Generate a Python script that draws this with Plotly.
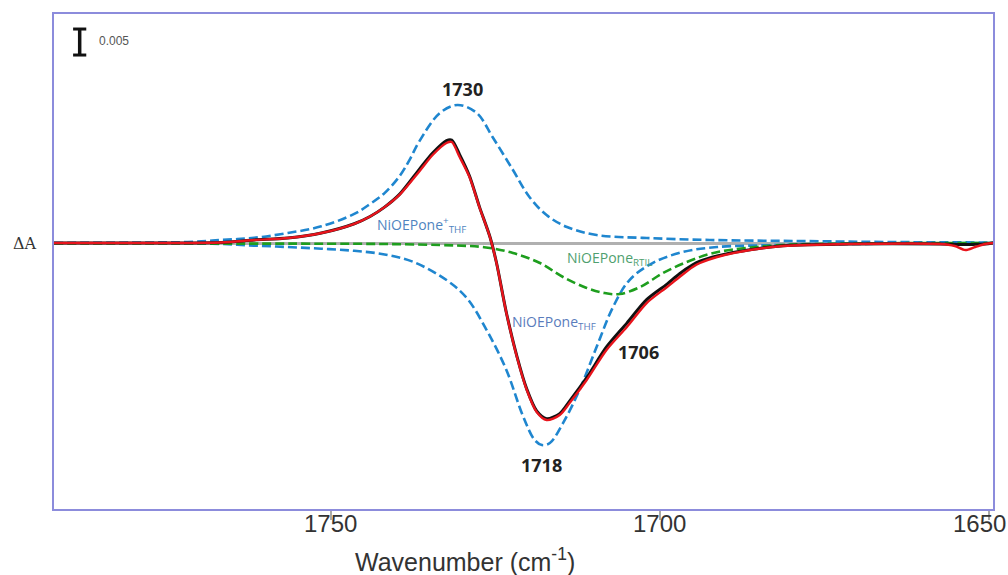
import plotly.graph_objects as go

# Wavenumber (cm-1) and ΔA (x 1e-3) values
wn_blue_pos = [1792, 1777.5, 1771.7, 1766.6, 1761.6, 1756.5, 1751.4, 1746.4, 1744.0, 1741.8,
               1739.5, 1738.0, 1736.5, 1733.4, 1730.7, 1727.8, 1725.4, 1722.3, 1719.8, 1717.2,
               1714.1, 1709.6, 1702.0, 1692.4, 1678.7, 1665.0, 1649.4]
da_blue_pos = [0.0, 0.1, 0.2, 0.58, 1.0, 1.92, 3.2, 5.6, 7.5, 9.6,
               12.9, 16.0, 19.6, 25.0, 26.54, 25.0, 20.38, 14.04, 8.85, 5.38,
               3.08, 1.54, 0.96, 0.58, 0.38, 0.19, 0.1]

wn_blue_neg = [1792, 1777.5, 1771.7, 1766.6, 1761.6, 1756.5, 1751.4, 1746.4, 1741.8, 1737.5,
               1732.4, 1729.3, 1726.3, 1723.3, 1720.8, 1719.0, 1717.9, 1716.7, 1714.7, 1712.2,
               1709.6, 1707.1, 1704.6, 1701.1, 1696.5, 1691.3, 1681.3, 1671.1, 1649.4]
da_blue_neg = [0.0, -0.05, -0.1, -0.19, -0.5, -0.77, -1.1, -1.5, -2.2, -3.6,
               -7.12, -10.6, -16.73, -24.42, -33.2, -37.88, -38.85, -38.46, -34.62, -28.27,
               -20.0, -12.31, -7.12, -3.85, -1.73, -0.77, -0.38, -0.19, 0.0]

wn_green = [1792, 1760, 1741.8, 1731.0, 1726.7, 1722.3, 1718.2, 1714.7, 1711.1, 1708.4,
            1706.1, 1703.0, 1699.5, 1695.9, 1692.4, 1688.9, 1681.3, 1671.1, 1649.4]
da_green = [-0.1, -0.12, -0.19, -0.48, -0.8, -1.92, -3.85, -6.54, -8.65, -9.62,
            -9.81, -8.46, -5.77, -3.65, -2.1, -1.25, -0.38, -0.1, 0.0]

wn_data = [1792, 1777.5, 1766.6, 1761.6, 1756.5, 1751.4, 1746.4, 1744.0, 1741.8, 1739.5,
           1736.5, 1734.5, 1732.4, 1731.6, 1730.4, 1728.9, 1727.4, 1725.8, 1724.8, 1723.3,
           1721.7, 1720.2, 1718.7, 1717.2, 1715.2, 1713.7, 1711.1, 1708.1, 1705.0, 1702.0,
           1698.9, 1697.0, 1695.0, 1693.9, 1691.3, 1686.3, 1681.3, 1671.1, 1657.4, 1655.2,
           1653.6, 1652.1, 1650.6, 1649.4]
da_red = [0.0, 0.0, 0.1, 0.58, 0.96, 1.92, 3.7, 5.1, 6.9, 9.3,
          13.8, 16.92, 19.23, 19.42, 16.54, 12.69, 6.92, 1.15, -3.85, -13.46,
          -21.92, -28.27, -32.5, -34.04, -33.08, -30.77, -26.35, -20.58, -16.15, -11.54,
          -8.46, -6.54, -4.62, -3.85, -2.69, -1.35, -0.58, -0.19, -0.19, -0.58,
          -1.35, -0.77, -0.19, 0.0]
da_black = [0.0, 0.0, 0.1, 0.58, 0.96, 1.92, 3.7, 5.1, 6.9, 9.4,
            14.2, 17.3, 19.7, 19.8, 17.0, 12.9, 7.0, 1.2, -3.8, -13.4,
            -21.8, -28.1, -32.3, -33.8, -32.8, -30.4, -25.9, -20.0, -15.4, -10.9,
            -7.9, -5.9, -4.2, -3.5, -2.5, -1.3, -0.55, -0.19, -0.19, -0.25,
            -0.3, -0.25, -0.19, 0.0]

x_ticks = [1750, 1700, 1650]
peak_labels = [(1730, 29.6, "1730"), (1718, -42.7, "1718"), (1703.3, -21.0, "1706")]
scale_bar = 5.0  # 0.005 ΔA in units of 1e-3

fig = go.Figure()

blue = "#1f86cf"
green = "#1e9e1e"

fig.add_trace(go.Scatter(x=wn_blue_pos, y=da_blue_pos, mode="lines",
                         line=dict(color=blue, width=2.6, dash="9px,4px", shape="spline", smoothing=1.0),
                         showlegend=False, hoverinfo="skip"))
fig.add_trace(go.Scatter(x=wn_blue_neg, y=da_blue_neg, mode="lines",
                         line=dict(color=blue, width=2.6, dash="9px,4px", shape="spline", smoothing=1.0),
                         showlegend=False, hoverinfo="skip"))
fig.add_trace(go.Scatter(x=wn_green, y=da_green, mode="lines",
                         line=dict(color=green, width=2.6, dash="9px,4px", shape="spline", smoothing=1.0),
                         showlegend=False, hoverinfo="skip"))
fig.add_trace(go.Scatter(x=wn_data, y=da_black, mode="lines",
                         line=dict(color="#111111", width=3.0, shape="spline", smoothing=0.8),
                         showlegend=False, hoverinfo="skip"))
fig.add_trace(go.Scatter(x=wn_data, y=da_red, mode="lines",
                         line=dict(color="#e8141c", width=2.4, shape="spline", smoothing=0.8),
                         showlegend=False, hoverinfo="skip"))

# peak labels
for xv, yv, txt in peak_labels:
    fig.add_annotation(x=xv, y=yv, text=f"<b>{txt}</b>", showarrow=False,
                       font=dict(family="Open Sans", size=18, color="#222222"))

# species labels
fig.add_annotation(x=1743.2, y=3.4, xanchor="left", text="NiOEPone<sup>+</sup><sub>THF</sub>",
                   showarrow=False, font=dict(family="Open Sans", size=14, color="#4f84c0"))
fig.add_annotation(x=1714.4, y=-3.0, xanchor="left", text="NiOEPone<sub>RTIL</sub>",
                   showarrow=False, font=dict(family="Open Sans", size=14, color="#4f9f6f"))
fig.add_annotation(x=1722.8, y=-15.2, xanchor="left", text="NiOEPone<sub>THF</sub>",
                   showarrow=False, font=dict(family="Open Sans", size=14, color="#5a7cbc"))

# scale bar (I-beam)
sb_x = 1788.1
sb_bottom = 36.15
fig.add_shape(type="line", x0=sb_x, x1=sb_x, y0=sb_bottom, y1=sb_bottom + scale_bar,
              line=dict(color="#111111", width=3.5))
fig.add_shape(type="line", x0=sb_x + 1.0, x1=sb_x - 1.0, y0=sb_bottom, y1=sb_bottom,
              line=dict(color="#111111", width=3))
fig.add_shape(type="line", x0=sb_x + 1.0, x1=sb_x - 1.0, y0=sb_bottom + scale_bar, y1=sb_bottom + scale_bar,
              line=dict(color="#111111", width=3))
fig.add_annotation(x=1785.5, y=38.85, text="0.005", showarrow=False,
                   xanchor="left", font=dict(family="Liberation Sans Narrow, Liberation Sans", size=12, color="#555555"))

# ΔA label
fig.add_annotation(xref="paper", x=-0.016, xanchor="right", y=0, text="ΔA", showarrow=False,
                   font=dict(family="DejaVu Serif", size=16, color="#333333"))

# tick labels
for t in x_ticks:
    fig.add_annotation(x=t, yref="paper", y=-0.061, text=str(t), showarrow=False,
                       xshift=-10 if t == 1650 else 0,
                       font=dict(family="Liberation Sans", size=24, color="#333333"))

# axis title
fig.add_annotation(xref="paper", yref="paper", x=0.438, y=-0.103, yanchor="middle",
                   text="Wavenumber (cm<sup>-1</sup>)", showarrow=False,
                   font=dict(family="Liberation Sans", size=25, color="#333333"))

fig.update_xaxes(range=[1792, 1649.4], tickvals=x_ticks, showticklabels=False,
                 ticks="outside", ticklen=9, tickcolor="#aaaaaa", tickwidth=1.5,
                 showgrid=False, zeroline=False, showline=True, mirror=True,
                 linecolor="#8c8cdc", linewidth=2)
fig.update_yaxes(range=[-51.15, 44.04], showticklabels=False, ticks="", showgrid=False,
                 zeroline=True, zerolinecolor="#b0b0b0", zerolinewidth=3,
                 showline=True, mirror=True, linecolor="#8c8cdc", linewidth=2)

fig.update_layout(width=1008, height=575, margin=dict(l=54, r=15, t=14, b=66),
                  plot_bgcolor="white", paper_bgcolor="white", showlegend=False)

fig.write_html("out.html")
